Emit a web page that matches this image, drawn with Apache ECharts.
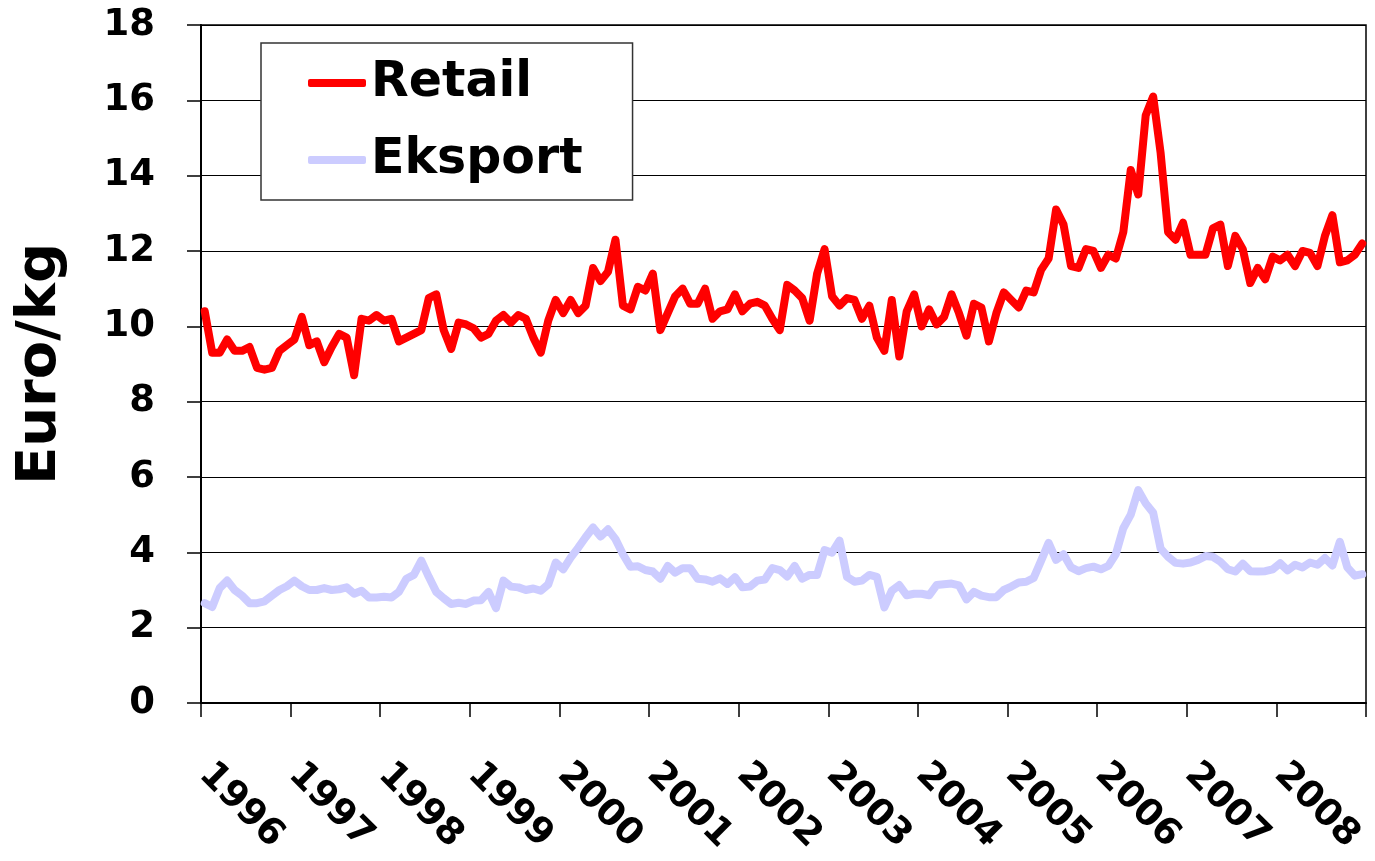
<!DOCTYPE html>
<html>
<head>
<meta charset="utf-8">
<script src="https://cdn.jsdelivr.net/npm/echarts@6/dist/echarts.min.js"></script>
<style>
html,body{margin:0;padding:0;background:#fff;}
#chart{width:1375px;height:861px;}
</style>
</head>
<body>
<div id="chart"></div>
<script>
const years = ['1996','1997','1998','1999','2000','2001','2002','2003','2004','2005','2006','2007','2008'];
const monthsPerYear = ['01','02','03','04','05','06','07','08','09','10','11','12'];
const seriesNames = ['Retail', 'Eksport'];

const retail = [
  10.4, 9.3, 9.3, 9.65, 9.35, 9.35, 9.45, 8.9, 8.85, 8.9, 9.35, 9.5,
  9.65, 10.25, 9.5, 9.6, 9.05, 9.45, 9.8, 9.7, 8.7, 10.2, 10.15, 10.3,
  10.15, 10.2, 9.6, 9.7, 9.8, 9.9, 10.75, 10.85, 9.9, 9.4, 10.1, 10.05,
  9.95, 9.7, 9.8, 10.15, 10.3, 10.1, 10.3, 10.2, 9.7, 9.3, 10.15, 10.7,
  10.35, 10.7, 10.35, 10.55, 11.55, 11.2, 11.45, 12.3, 10.55, 10.45, 11.05, 10.95,
  11.4, 9.9, 10.35, 10.8, 11.0, 10.6, 10.6, 11.0, 10.2, 10.4, 10.45, 10.85,
  10.4, 10.6, 10.65, 10.55, 10.2, 9.9, 11.1, 10.95, 10.75, 10.15, 11.4, 12.05,
  10.8, 10.55, 10.75, 10.7, 10.2, 10.55, 9.7, 9.35, 10.7, 9.2, 10.4, 10.85,
  10.0, 10.45, 10.05, 10.25, 10.85, 10.35, 9.75, 10.6, 10.5, 9.6, 10.35, 10.9,
  10.7, 10.5, 10.95, 10.9, 11.5, 11.8, 13.1, 12.7, 11.6, 11.55, 12.05, 12.0,
  11.55, 11.9, 11.8, 12.5, 14.15, 13.5, 15.6, 16.1, 14.6, 12.5, 12.3, 12.75,
  11.9, 11.9, 11.9, 12.6, 12.7, 11.6, 12.4, 12.05, 11.15, 11.55, 11.25, 11.85,
  11.75, 11.9, 11.6, 12.0, 11.95, 11.6, 12.4, 12.95, 11.7, 11.75, 11.9, 12.2
];

const eksport = [
  2.65, 2.55, 3.05, 3.25, 3.0, 2.85, 2.65, 2.65, 2.7, 2.85, 3.0, 3.1,
  3.25, 3.1, 3.0, 3.0, 3.05, 3.0, 3.02, 3.07, 2.9, 2.98, 2.8, 2.8,
  2.82, 2.8, 2.95, 3.3, 3.4, 3.78, 3.35, 2.95, 2.78, 2.63, 2.66, 2.63,
  2.72, 2.73, 2.95, 2.52, 3.25, 3.09, 3.07, 3.0, 3.04, 2.98, 3.15, 3.73,
  3.55, 3.86, 4.12, 4.4, 4.66, 4.42, 4.61, 4.35, 3.95, 3.62, 3.63, 3.53,
  3.49, 3.3, 3.64, 3.46, 3.58, 3.58, 3.3, 3.28, 3.22, 3.31, 3.16, 3.34,
  3.07, 3.09, 3.25, 3.28, 3.58, 3.53, 3.36, 3.64, 3.3, 3.4, 3.4, 4.06,
  3.99, 4.31, 3.35, 3.22, 3.25, 3.4, 3.35, 2.54, 2.98, 3.13, 2.86, 2.9,
  2.9, 2.86, 3.13, 3.15, 3.17, 3.12, 2.75, 2.95, 2.85, 2.81, 2.81, 3.0,
  3.09, 3.2, 3.22, 3.32, 3.78, 4.25, 3.8, 3.95, 3.6, 3.5, 3.58, 3.62,
  3.55, 3.64, 3.95, 4.64, 5.0, 5.65, 5.3, 5.05, 4.1, 3.88, 3.72, 3.7,
  3.73, 3.8, 3.9, 3.88, 3.75, 3.55, 3.49, 3.7, 3.5, 3.49, 3.5, 3.55,
  3.71, 3.52, 3.67, 3.6, 3.73, 3.67, 3.85, 3.65, 4.28, 3.6, 3.38, 3.42
];

const categories = [];
years.forEach(y => monthsPerYear.forEach(m => categories.push(y + '-' + m)));

const FONT = 'DejaVu Sans, Verdana, sans-serif';
const chart = echarts.init(document.getElementById('chart'), null, {renderer: 'canvas'});

chart.setOption({
  animation: false,
  backgroundColor: '#ffffff',
  grid: {
    left: 201, right: 9, top: 25, bottom: 158,
    show: true, borderColor: '#000', borderWidth: 1.5, backgroundColor: '#fff'
  },
  legend: {
    orient: 'vertical',
    left: 261, top: 43,
    padding: [10, 50, 10, 47],
    borderColor: '#333', borderWidth: 1.5,
    backgroundColor: '#fff',
    itemWidth: 58, itemHeight: 8, itemGap: 17,
    icon: 'roundRect',
    textStyle: {fontFamily: FONT, fontWeight: 'bold', fontSize: 49, color: '#000', lineHeight: 60},
    data: seriesNames
  },
  xAxis: {
    type: 'category',
    data: categories,
    boundaryGap: true,
    axisLine: {show: true, lineStyle: {color: '#000', width: 2}},
    axisTick: {show: true, length: 14, interval: 11, lineStyle: {color: '#000', width: 1.5}},
    axisLabel: {
      interval: 11, rotate: -45, margin: 66,
      fontFamily: FONT, fontWeight: 'bold', fontSize: 37, color: '#000',
      formatter: v => v.slice(0, 4)
    },
    splitLine: {show: false}
  },
  yAxis: {
    type: 'value',
    min: 0, max: 18, interval: 2,
    name: 'Euro/kg',
    nameLocation: 'middle',
    nameGap: 133,
    nameTextStyle: {fontFamily: FONT, fontWeight: 'bold', fontSize: 56, color: '#000'},
    axisLine: {show: true, lineStyle: {color: '#000', width: 2}},
    axisTick: {show: true, length: 14, lineStyle: {color: '#000', width: 1.5}},
    axisLabel: {margin: 46, fontFamily: FONT, fontWeight: 'bold', fontSize: 37, color: '#000'},
    splitLine: {show: true, lineStyle: {color: '#000', width: 1.2}}
  },
  series: [
    {
      name: seriesNames[0], type: 'line', data: retail, symbol: 'none', smooth: false,
      itemStyle: {color: '#ff0000'},
      lineStyle: {color: '#ff0000', width: 8, cap: 'round', join: 'round'},
      z: 3
    },
    {
      name: seriesNames[1], type: 'line', data: eksport, symbol: 'none', smooth: false,
      itemStyle: {color: '#ccccff'},
      lineStyle: {color: '#ccccff', width: 8, cap: 'round', join: 'round'},
      z: 2
    }
  ]
});
</script>
</body>
</html>
